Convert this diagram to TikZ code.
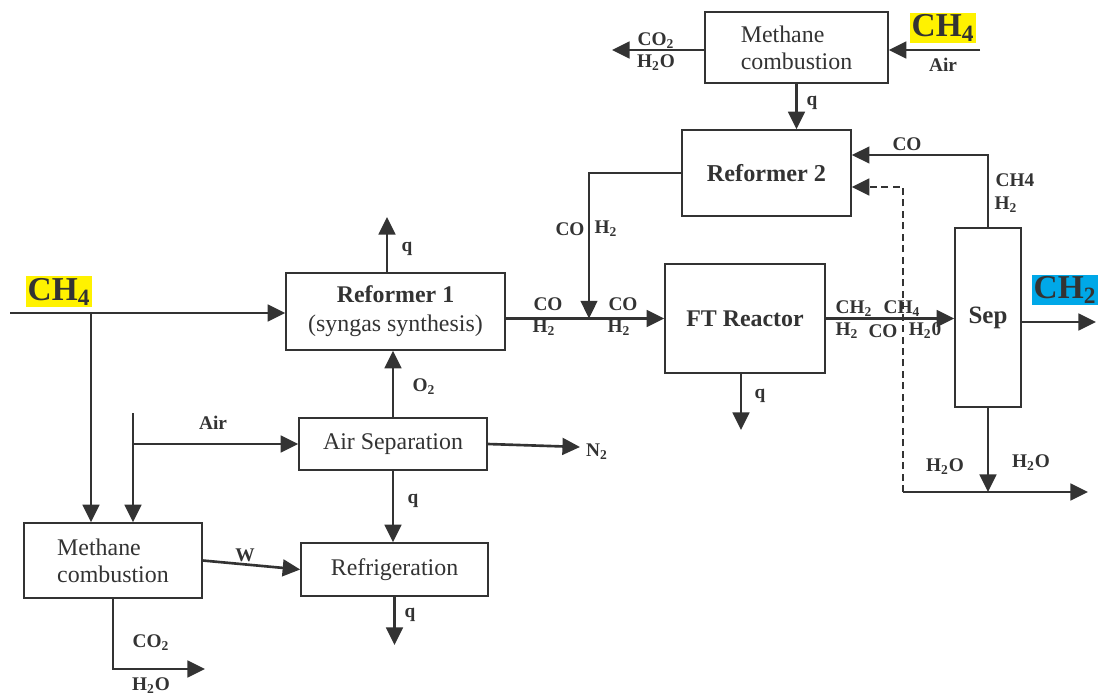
\documentclass[tikz,border=0pt]{standalone}
\usepackage{fontspec}
\setmainfont{Liberation Serif}
\usetikzlibrary{positioning,calc,arrows.meta}
\definecolor{ink}{HTML}{333333}
\definecolor{ylw}{HTML}{FFF200}
\definecolor{cyn}{HTML}{00A8E8}

\begin{document}
\begin{tikzpicture}[x=0.02cm,y=-0.02cm]
\tikzset{box/.style={draw=ink, line width=0.9pt, text=ink, font=\fontsize{13.6}{15.5}\selectfont, align=left, inner sep=0pt},
  tag/.style={text=ink, font=\fontsize{11}{12}\selectfont\bfseries, inner sep=0pt},
  flow/.style={draw=ink, line width=1.5pt, -{Triangle[length=10pt,width=9.5pt]}},
  hilite/.style={text=ink, font=\fontsize{19}{20}\selectfont\bfseries, inner sep=1pt}}
\useasboundingbox (0,0) rectangle (1098,696);

% units
\node[box, minimum width=3.66cm, minimum height=1.42cm] at (796.5,47.5) (mc1) {Methane\\combustion};
\node[box, minimum width=3.38cm, minimum height=1.72cm, font=\fontsize{13.8}{15}\selectfont\bfseries] at (766.5,173) (ref2) {Reformer 2};
\node[box, minimum width=4.38cm, minimum height=1.54cm, align=center] at (395.5,311.5) (ref1) {{\bfseries Reformer 1}\\[1pt](syngas synthesis)};
\node[box, minimum width=3.2cm, minimum height=2.18cm, font=\fontsize{13.6}{15}\selectfont\bfseries] at (745,318.5) (ft) {FT Reactor};
\node[box, minimum width=1.32cm, minimum height=3.58cm, font=\fontsize{14.2}{15}\selectfont\bfseries] at (988,317.5) (sep) {Sep};
\node[box, minimum width=3.76cm, minimum height=1.04cm] at (393,444) (airsep) {Air Separation};
\node[box, minimum width=3.74cm, minimum height=1.06cm] at (394.5,569.5) (refrig) {Refrigeration};
\node[box, minimum width=3.56cm, minimum height=1.5cm] at (113,560.5) (mc2) {Methane\\combustion};

% free ends
\coordinate (ch4in) at (10,313);
\coordinate (j1) at (91,313);
\coordinate (airin) at (133,413);
\coordinate (n2out) at (580,447);
\coordinate (qrf) at (394.5,645);
\coordinate (fgout) at (205,669);
\coordinate (q1) at (387,217);
\coordinate (mix) at (589,318.5);
\coordinate (q3) at (741,430);
\coordinate (ch2out) at (1096,322);
\coordinate (dj) at (903,492);
\coordinate (h2oout) at (1088,492);
\coordinate (fg1) at (612,50);
\coordinate (ch4top) at (980,50);

% streams
\draw[flow] (ch4in) -- (ch4in -| ref1.west);
\draw[flow] (j1) -- (j1 |- mc2.north);
\draw[flow] (airin) -- (airin |- mc2.north);
\draw[flow] (airin |- airsep.west) -- (airsep.west);
\draw[flow] (airsep.north) -- (airsep.north |- ref1.south);
\draw[flow] (airsep.east) -- (n2out);
\draw[flow] (airsep.south) -- (airsep.south |- refrig.north);
\draw[flow] (refrig.south) -- (qrf);
\draw[flow] (mc2.east) -- (refrig.west);
\draw[flow] (mc2.south) |- (fgout);
\draw[flow] (q1 |- ref1.north) -- (q1);
\draw[flow] (ref1.east |- ft.west) -- (ft.west);
\draw[flow, line width=1.1pt] (ref2.west) -| (mix);
\draw[flow] (q3 |- ft.south) -- (q3);
\draw[flow] (ft.east) -- (ft.east -| sep.west);
\draw[flow] (ch2out -| sep.east) -- (ch2out);
\draw[flow, line width=1.1pt] (sep.north) |- ($(ref2.east)+(0,-18)$);
\draw[flow, dash pattern=on 4pt off 2.5pt] (dj) |- ($(ref2.east)+(0,14)$);
\draw[flow] (dj) -- (h2oout);
\draw[flow] (sep.south) -- (sep.south |- dj);
\draw[flow] (mc1.south) -- (mc1.south |- ref2.north);
\draw[flow] (fg1 -| mc1.west) -- (fg1);
\draw[flow] (ch4top) -- (ch4top -| mc1.east);

% stream labels
\foreach \p/\t [count=\i] in {{656,41}/CO\textsubscript{2}, {656,63}/H\textsubscript{2}O, {943,65}/Air, {812,103}/q,
  {907,144}/CO, {1015,180}/CH4, {1006,205}/H\textsubscript{2}, {570,229}/CO, {606,229}/H\textsubscript{2},
  {548,304}/CO, {544,328}/H\textsubscript{2}, {623,304}/CO, {619,328}/H\textsubscript{2},
  {854,309}/CH\textsubscript{2}, {902,309}/CH\textsubscript{4}, {847,331}/H\textsubscript{2}, {883,331}/CO, {925,331}/H\textsubscript{2}0,
  {760,396}/q, {945,467}/H\textsubscript{2}O, {1031,463}/H\textsubscript{2}O, {407,249}/q, {424,387}/O\textsubscript{2},
  {597,452}/N\textsubscript{2}, {413,501}/q, {410,615}/q, {245,555}/W, {213,423}/Air,
  {151,643}/CO\textsubscript{2}, {151,686}/H\textsubscript{2}O}
  \node[tag] (t\i) at (\p) {\t};

\node[hilite, fill=ylw] (ch4a) at (943,28) {CH\textsubscript{4}};
\node[hilite, fill=ylw] (ch4b) at (59,291.5) {CH\textsubscript{4}};
\node[hilite, fill=cyn] (ch2a) at (1065,290) {CH\textsubscript{2}};
\end{tikzpicture}
\end{document}
